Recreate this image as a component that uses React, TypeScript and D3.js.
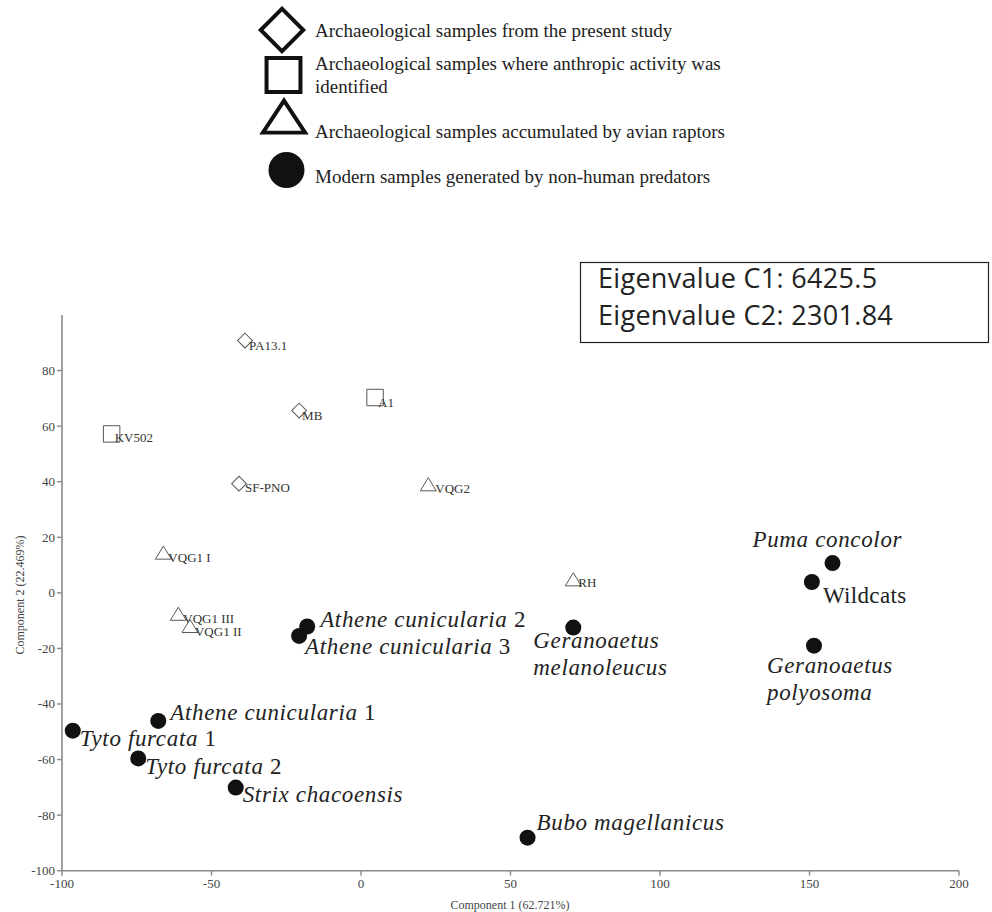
import React from "react";
import * as d3 from "d3";

// ---- Data ----
const archNames = ["PA13.1", "MB", "SF-PNO", "KV502", "A1", "VQG1 I", "VQG2", "RH", "VQG1 III", "VQG1 II"];
const archGroup = ["diamond", "diamond", "diamond", "square", "square", "triangle", "triangle", "triangle", "triangle", "triangle"];
const archC1 = [-38.8, -20.7, -40.8, -83.4, 4.7, -66.1, 22.5, 71.0, -61.1, -57.2];
const archC2 = [90.8, 65.6, 39.3, 57.2, 70.3, 13.7, 38.3, 4.1, -8.3, -12.7];

const modernNames = [
  ["Athene cunicularia", " 2"],
  ["Athene cunicularia", " 3"],
  ["Athene cunicularia", " 1"],
  ["Tyto furcata", " 1"],
  ["Tyto furcata", " 2"],
  ["Strix chacoensis", ""],
  ["Bubo magellanicus", ""],
  ["Geranoaetus|melanoleucus", ""],
  ["Puma concolor", ""],
  ["", "Wildcats"],
  ["Geranoaetus|polyosoma", ""],
];
const modernC1 = [-18.0, -20.7, -67.8, -96.4, -74.5, -41.9, 55.7, 71.0, 157.7, 150.8, 151.5];
const modernC2 = [-12.1, -15.5, -46.1, -49.6, -59.6, -70.1, -88.1, -12.5, 10.7, 3.9, -19.0];

const xTicks = [-100, -50, 0, 50, 100, 150, 200];
const yTicks = [-100, -80, -60, -40, -20, 0, 20, 40, 60, 80];

const legendLabels = [
  ["Archaeological samples from the present study"],
  ["Archaeological samples where anthropic activity was", "identified"],
  ["Archaeological samples accumulated by avian raptors"],
  ["Modern samples generated by non-human predators"],
];
const legendShapes = ["diamond", "square", "triangle", "circle"];

const eigenLines = ["Eigenvalue C1: 6425.5", "Eigenvalue C2: 2301.84"];
const xTitle = "Component 1 (62.721%)";
const yTitle = "Component 2 (22.469%)";

// ---- Layout (label offsets in px) ----
const archLabelOffset: [number, number][] = [
  [4, 9], [3, 9], [6, 8], [3, 8.5], [3, 9], [5, 7], [7, 7], [5, 6], [5, 7], [5, 8],
];
const modernLabelOffset: [number, number][] = [
  [13, 1], [6, 18], [12, -1], [7, 15], [7, 16],
  [7, 14], [9, -8], [-40, 20], [-80, -16], [11, 21],
  [-47, 27],
];

const W = 992, H = 912;
const serif = "'Liberation Serif', Tinos, 'Times New Roman', Times, 'DejaVu Serif', serif";

function shapePath(kind: string, size: number) {
  if (kind === "square") return d3.symbol(d3.symbolSquare, size)() as string;
  if (kind === "triangle") return d3.symbol(d3.symbolTriangle, size)() as string;
  return d3.symbol(d3.symbolCircle, size)() as string;
}

export default function App() {
  const x = d3.scaleLinear().domain([-100, 200]).range([62, 959]);
  const y = d3.scaleLinear().domain([-100, 100]).range([870.7, 315]);

  const axisColor = "#8a8a8a";
  const tickText = "#444";
  const serifStyle = { fontFamily: serif };

  return (
    <svg width={W} height={H} style={{ position: "absolute", left: 0, top: 0, background: "#fff" }}>
      {/* Legend */}
      {legendShapes.map((s, i) => {
        const cy = [30, 75, 119, 170][i];
        const baselines = [[37], [70, 93], [138], [183]][i];
        let mark;
        if (s === "diamond")
          mark = <path d={shapePath("square", 900)} transform={`translate(282,${cy}) rotate(45)`} fill="#fff" stroke="#111" strokeWidth={4} />;
        else if (s === "square")
          mark = <path d={shapePath("square", 1150)} transform={`translate(283.5,${cy})`} fill="#fff" stroke="#111" strokeWidth={4} />;
        else if (s === "triangle")
          mark = <path d={shapePath("triangle", 700)} transform={`translate(284,${cy + 3}) scale(1.05,0.92)`} fill="#fff" stroke="#111" strokeWidth={4} />;
        else mark = <circle cx={286.5} cy={cy} r={18} fill="#111" />;
        return (
          <g key={i}>
            {mark}
            {legendLabels[i].map((t, j) => (
              <text key={j} x={315} y={baselines[j]} style={serifStyle} fontSize={19} fill="#222">{t}</text>
            ))}
          </g>
        );
      })}

      {/* Eigenvalue box */}
      <rect x={580.5} y={262.5} width={408} height={80} fill="#fff" stroke="#222" strokeWidth={1.2} />
      {eigenLines.map((t, i) => (
        <text key={i} x={598} y={288 + i * 37} style={{ fontFamily: "'Open Sans', sans-serif", letterSpacing: "0.3px" }} fontSize={27} fill="#222">{t}</text>
      ))}

      {/* Axes */}
      <line x1={62} x2={62} y1={y(100)} y2={y(-100)} stroke={axisColor} strokeWidth={1.6} />
      <line x1={62} x2={x(200)} y1={y(-100)} y2={y(-100)} stroke={axisColor} strokeWidth={1.6} />
      {yTicks.map((t) => (
        <g key={"y" + t}>
          <line x1={57} x2={62} y1={y(t)} y2={y(t)} stroke={axisColor} strokeWidth={1.4} />
          <text x={55} y={y(t) + 4.5} textAnchor="end" style={serifStyle} fontSize={13} fill={tickText}>{t}</text>
        </g>
      ))}
      {xTicks.map((t) => (
        <g key={"x" + t}>
          <line x1={x(t)} x2={x(t)} y1={y(-100)} y2={y(-100) + 5} stroke={axisColor} strokeWidth={1.4} />
          <text x={x(t)} y={888} textAnchor="middle" style={serifStyle} fontSize={13} fill={tickText}>{t}</text>
        </g>
      ))}
      <text x={510} y={909} textAnchor="middle" style={serifStyle} fontSize={12} fill={tickText}>{xTitle}</text>
      <text transform={`translate(24,595) rotate(-90)`} textAnchor="middle" style={serifStyle} fontSize={12} fill={tickText}>{yTitle}</text>

      {/* Archaeological points */}
      {archNames.map((n, i) => {
        const cx = x(archC1[i]);
        const cy = y(archC2[i]);
        let mark;
        if (archGroup[i] === "diamond")
          mark = <path d={shapePath("square", 110)} transform={`translate(${cx},${cy}) rotate(45)`} fill="none" stroke="#555" strokeWidth={1} />;
        else if (archGroup[i] === "square")
          mark = <path d={shapePath("square", 270)} transform={`translate(${cx},${cy})`} fill="none" stroke="#555" strokeWidth={1} />;
        else
          mark = <path d={shapePath("triangle", 110)} transform={`translate(${cx},${cy}) scale(1,0.95)`} fill="none" stroke="#555" strokeWidth={1} />;
        const [dx, dy] = archLabelOffset[i];
        return (
          <g key={n}>
            {mark}
            <text x={cx + dx} y={cy + dy} style={serifStyle} fontSize={13} fill="#333">{n}</text>
          </g>
        );
      })}

      {/* Modern points */}
      {modernNames.map((nm, i) => {
        const cx = x(modernC1[i]);
        const cy = y(modernC2[i]);
        const [dx, dy] = modernLabelOffset[i];
        const lines = nm[0].split("|");
        return (
          <g key={i}>
            <circle cx={cx} cy={cy} r={8} fill="#111" />
            {nm[0] === "" ? (
              <text x={cx + dx} y={cy + dy} style={{ ...serifStyle, letterSpacing: "0.35px" }} fontSize={23} fill="#222">{nm[1]}</text>
            ) : (
              lines.map((ln, j) => (
                <text key={j} x={cx + dx} y={cy + dy + j * 27} style={{ ...serifStyle, letterSpacing: "0.65px" }} fontSize={23} fill="#222">
                  <tspan fontStyle="italic">{ln}</tspan>
                  {j === lines.length - 1 && nm[1] ? <tspan>{nm[1]}</tspan> : null}
                </text>
              ))
            )}
          </g>
        );
      })}
    </svg>
  );
}
